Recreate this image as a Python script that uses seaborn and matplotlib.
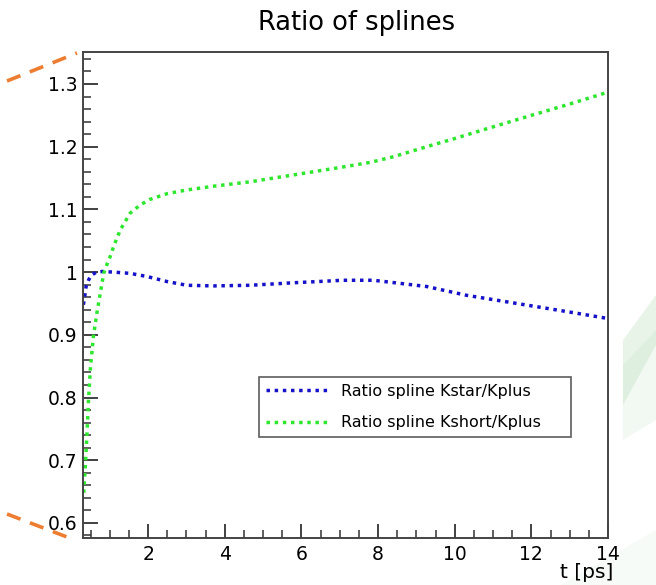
import numpy as np
import pandas as pd
import seaborn as sns
import matplotlib
matplotlib.use("Agg")
import matplotlib.pyplot as plt
from matplotlib.lines import Line2D
from matplotlib.patches import Polygon
from matplotlib.ticker import MultipleLocator, FuncFormatter

# ---- data ----
kstar_t = [0.31, 0.33, 0.38, 0.45, 0.52, 0.65, 0.8, 1.1, 1.53, 1.97, 2.49, 3.01, 3.71,
           4.66, 5.79, 7.09, 7.88, 8.58, 9.27, 10.31, 11.62, 12.93, 14.0]
kstar_ratio = [0.948, 0.955, 0.977, 0.988, 0.995, 1.0, 1.001, 1.0, 0.998, 0.993, 0.985,
               0.979, 0.978, 0.979, 0.983, 0.987, 0.987, 0.982, 0.977, 0.963, 0.950,
               0.937, 0.926]
kshort_t = [0.32, 0.36, 0.40, 0.44, 0.49, 0.57, 0.66, 0.75, 0.84, 0.93, 1.01, 1.10, 1.27,
            1.53, 1.79, 2.05, 2.49, 3.01, 3.71, 4.66, 5.79, 6.92, 7.8, 8.40, 9.27, 10.0,
            10.75, 12.0, 13.0, 14.0]
kshort_ratio = [0.648, 0.690, 0.737, 0.791, 0.844, 0.897, 0.934, 0.966, 0.998, 1.013,
                1.025, 1.041, 1.067, 1.094, 1.107, 1.116, 1.125, 1.131, 1.137, 1.144,
                1.155, 1.166, 1.175, 1.184, 1.200, 1.213, 1.227, 1.250, 1.268, 1.287]
labels = ["Ratio spline Kstar/Kplus", "Ratio spline Kshort/Kplus"]
title = "Ratio of splines"
xlabel = "t [ps]"

df = pd.concat([
    pd.DataFrame({"t": kstar_t, "ratio": kstar_ratio, "series": labels[0]}),
    pd.DataFrame({"t": kshort_t, "ratio": kshort_ratio, "series": labels[1]}),
])

sns.set_theme(style="white")
plt.rcParams["font.family"] = ["DejaVu Sans"]
plt.rcParams["text.color"] = "black"
plt.rcParams["xtick.labelcolor"] = "black"
plt.rcParams["ytick.labelcolor"] = "black"

W, H = 656, 585
fig = plt.figure(figsize=(W / 100, H / 100), dpi=100)
ax = fig.add_axes([83 / W, 1 - 538 / H, (608 - 83) / W, (538 - 52) / H])

colors = {labels[0]: "#1512c8", labels[1]: "#2ee62e"}
sns.lineplot(data=df, x="t", y="ratio", hue="series", palette=colors, sort=False,
             estimator=None, ax=ax, legend=False, linewidth=2.5)
for ln in ax.get_lines():
    ln.set_linestyle((0, (1, 1.35)))
    ln.set_dash_capstyle("butt")

ax.set_xlim(0.3, 14)
ax.set_ylim(0.576, 1.351)
ax.set_xlabel("")
ax.set_ylabel("")

ax.xaxis.set_major_locator(MultipleLocator(2))
ax.xaxis.set_minor_locator(MultipleLocator(0.5))
ax.yaxis.set_major_locator(MultipleLocator(0.1))
ax.yaxis.set_minor_locator(MultipleLocator(0.02))
ax.yaxis.set_major_formatter(FuncFormatter(lambda v, p: "%g" % round(v, 2)))
ax.xaxis.set_major_formatter(FuncFormatter(lambda v, p: "%g" % round(v, 2)))

tc = "#333333"
ax.tick_params(axis="y", which="major", direction="in", length=11, width=1.3,
               color=tc, labelsize=13.5, pad=4, left=True, labelcolor="black")
ax.tick_params(axis="y", which="minor", direction="in", length=6, width=1.1,
               color=tc, left=True)
ax.tick_params(axis="x", which="major", direction="in", length=10, width=1.3,
               color=tc, labelsize=13.5, pad=5, bottom=True, labelcolor="black")
ax.tick_params(axis="x", which="minor", direction="in", length=6, width=1.1,
               color=tc, bottom=True)
for s in ax.spines.values():
    s.set_color("#444444")
    s.set_linewidth(1.4)

# legend
handles = [Line2D([0], [0], color=colors[l], lw=2.5, linestyle=(0, (1, 1.35)),
                  dash_capstyle="butt") for l in labels]
ax_w, ax_h = 525, 486
leg = ax.legend(handles, labels, loc="upper left",
                bbox_to_anchor=((259 - 83) / ax_w, (538 - 377) / ax_h,
                                (571 - 259) / ax_w, 0),
                mode="expand", fontsize=11.5, frameon=True, fancybox=False,
                handlelength=3.9, handletextpad=0.8, borderpad=0.42,
                labelspacing=1.03, borderaxespad=0)
leg.get_frame().set_edgecolor("#333333")
leg.get_frame().set_linewidth(1.2)
for t in leg.get_texts():
    t.set_color("black")

fig.text(357 / W, 1 - 23 / H, title, ha="center", va="center", fontsize=18.5,
         color="black")
fig.text(613 / W, 1 - 572 / H, xlabel, ha="right", va="center", fontsize=14.5,
         color="black")

# slide decorations
orange = "#ED7D31"
fig.add_artist(Line2D([7 / W, 77 / W], [1 - 81 / H, 1 - 53 / H], color=orange,
                      lw=2.6, linestyle=(0, (4, 2.8)), transform=fig.transFigure))
fig.add_artist(Line2D([7 / W, 67 / W], [1 - 514 / H, 1 - 537 / H], color=orange,
                      lw=2.6, linestyle=(0, (4, 2.8)), transform=fig.transFigure))
green_shapes = [
    [(623, 340), (656, 295), (656, 345), (623, 405)],
    [(623, 365), (656, 330), (656, 420), (623, 440)],
    [(560, 585), (656, 530), (656, 585)],
]
for shp, a in zip(green_shapes, [0.22, 0.13, 0.08]):
    fig.add_artist(Polygon([(x / W, 1 - y / H) for x, y in shp], closed=True,
                           facecolor="#9fcf9f", edgecolor="none", alpha=a,
                           transform=fig.transFigure, zorder=-1))

fig.savefig("out.png", dpi=100)
